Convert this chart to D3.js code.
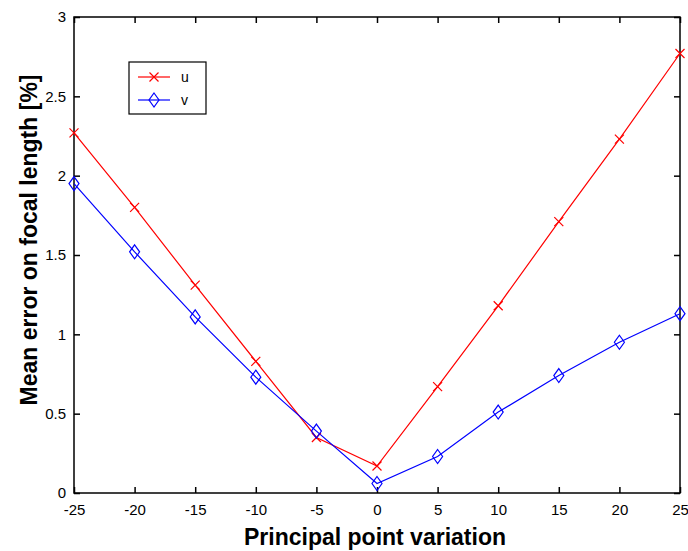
<!DOCTYPE html>
<html>
<head>
<meta charset="utf-8">
<script src="https://cdn.jsdelivr.net/npm/d3@7/dist/d3.min.js"></script>
<style>
  body { margin: 0; background: #fff; }
  svg { display: block; font-family: "Liberation Sans", Arial, sans-serif; }
</style>
</head>
<body>
<svg id="chart" width="688" height="551"></svg>
<script>
  // data
  var xValues = [-25, -20, -15, -10, -5, 0, 5, 10, 15, 20, 25];
  var uValues = [2.27, 1.80, 1.31, 0.83, 0.35, 0.17, 0.67, 1.18, 1.71, 2.23, 2.77];
  var vValues = [1.95, 1.52, 1.11, 0.73, 0.39, 0.06, 0.23, 0.51, 0.74, 0.95, 1.13];
  var xTicks = [-25, -20, -15, -10, -5, 0, 5, 10, 15, 20, 25];
  var yTicks = [0, 0.5, 1, 1.5, 2, 2.5, 3];

  (function () {
    var svg = d3.select('#chart');
    var mLeft = 74, mRight = 680, mTop = 17, mBottom = 493;

    var x = d3.scaleLinear().domain([-25, 25]).range([mLeft, mRight]);
    var y = d3.scaleLinear().domain([0, 3]).range([mBottom, mTop]);

    // box
    svg.append('rect')
      .attr('x', mLeft).attr('y', mTop)
      .attr('width', mRight - mLeft).attr('height', mBottom - mTop)
      .attr('fill', 'none').attr('stroke', '#000').attr('stroke-width', 1.5);

    var tickLen = 6;
    var tickFmt = function (d) { return String(d); };

    // bottom axis (ticks inward)
    var gx = svg.append('g').attr('transform', 'translate(0,' + mBottom + ')')
      .call(d3.axisBottom(x).tickValues(xTicks).tickSizeInner(-tickLen).tickSizeOuter(0)
        .tickPadding(11).tickFormat(tickFmt));
    gx.select('.domain').remove();
    gx.selectAll('text').style('font-size', '15px').attr('fill', '#000');

    // top mirror ticks
    var gxt = svg.append('g').attr('transform', 'translate(0,' + mTop + ')')
      .call(d3.axisTop(x).tickValues(xTicks).tickSizeInner(-tickLen).tickSizeOuter(0).tickFormat(''));
    gxt.select('.domain').remove();

    // left axis
    var gy = svg.append('g').attr('transform', 'translate(' + mLeft + ',0)')
      .call(d3.axisLeft(y).tickValues(yTicks).tickSizeInner(-tickLen).tickSizeOuter(0)
        .tickPadding(8).tickFormat(tickFmt));
    gy.select('.domain').remove();
    gy.selectAll('text').style('font-size', '15px').attr('fill', '#000');

    // right mirror ticks
    var gyr = svg.append('g').attr('transform', 'translate(' + mRight + ',0)')
      .call(d3.axisRight(y).tickValues(yTicks).tickSizeInner(-tickLen).tickSizeOuter(0).tickFormat(''));
    gyr.select('.domain').remove();

    svg.selectAll('.tick line').attr('stroke', '#000').attr('stroke-width', 1.5);

    // axis labels
    svg.append('text')
      .attr('x', 375).attr('y', 545)
      .attr('text-anchor', 'middle')
      .style('font-size', '23px').style('font-weight', 'bold')
      .text('Principal point variation');

    svg.append('text')
      .attr('transform', 'translate(37,240) rotate(-90)')
      .attr('text-anchor', 'middle')
      .style('font-size', '23px').style('font-weight', 'bold')
      .text('Mean error on focal length [%]');

    var line = d3.line()
      .x(function (d) { return x(d[0]); })
      .y(function (d) { return y(d[1]); });

    var uPts = xValues.map(function (v, i) { return [v, uValues[i]]; });
    var vPts = xValues.map(function (v, i) { return [v, vValues[i]]; });

    function crossPath(cx, cy) {
      var s = 4.5;
      return 'M' + (cx - s) + ',' + (cy - s) + 'L' + (cx + s) + ',' + (cy + s) +
        'M' + (cx - s) + ',' + (cy + s) + 'L' + (cx + s) + ',' + (cy - s);
    }
    function diamondPath(cx, cy) {
      var w = 5, h = 7;
      return 'M' + cx + ',' + (cy - h) + 'L' + (cx + w) + ',' + cy + 'L' + cx + ',' + (cy + h) +
        'L' + (cx - w) + ',' + cy + 'Z';
    }

    svg.append('path').datum(uPts).attr('d', line)
      .attr('fill', 'none').attr('stroke', '#ff0000').attr('stroke-width', 1.2);
    svg.append('path').datum(vPts).attr('d', line)
      .attr('fill', 'none').attr('stroke', '#0000ff').attr('stroke-width', 1.2);

    svg.selectAll('.u-mark').data(uPts).enter().append('path')
      .attr('class', 'u-mark')
      .attr('d', function (d) { return crossPath(x(d[0]), y(d[1])); })
      .attr('stroke', '#ff0000').attr('stroke-width', 1.2).attr('fill', 'none');
    svg.selectAll('.v-mark').data(vPts).enter().append('path')
      .attr('class', 'v-mark')
      .attr('d', function (d) { return diamondPath(x(d[0]), y(d[1])); })
      .attr('stroke', '#0000ff').attr('stroke-width', 1.2).attr('fill', 'none');

    // legend
    var lg = svg.append('g');
    lg.append('rect').attr('x', 129).attr('y', 62).attr('width', 77).attr('height', 52)
      .attr('fill', '#fff').attr('stroke', '#000').attr('stroke-width', 1.2);
    var items = [
      { name: 'u', color: '#ff0000', marker: crossPath, yy: 77 },
      { name: 'v', color: '#0000ff', marker: diamondPath, yy: 100 }
    ];
    items.forEach(function (it) {
      lg.append('line').attr('x1', 138).attr('x2', 170).attr('y1', it.yy).attr('y2', it.yy)
        .attr('stroke', it.color).attr('stroke-width', 1.2);
      lg.append('path').attr('d', it.marker(154, it.yy))
        .attr('stroke', it.color).attr('stroke-width', 1.2).attr('fill', 'none');
      lg.append('text').attr('x', 181).attr('y', it.yy + 5)
        .style('font-size', '14px').text(it.name);
    });
  })();
</script>
</body>
</html>
